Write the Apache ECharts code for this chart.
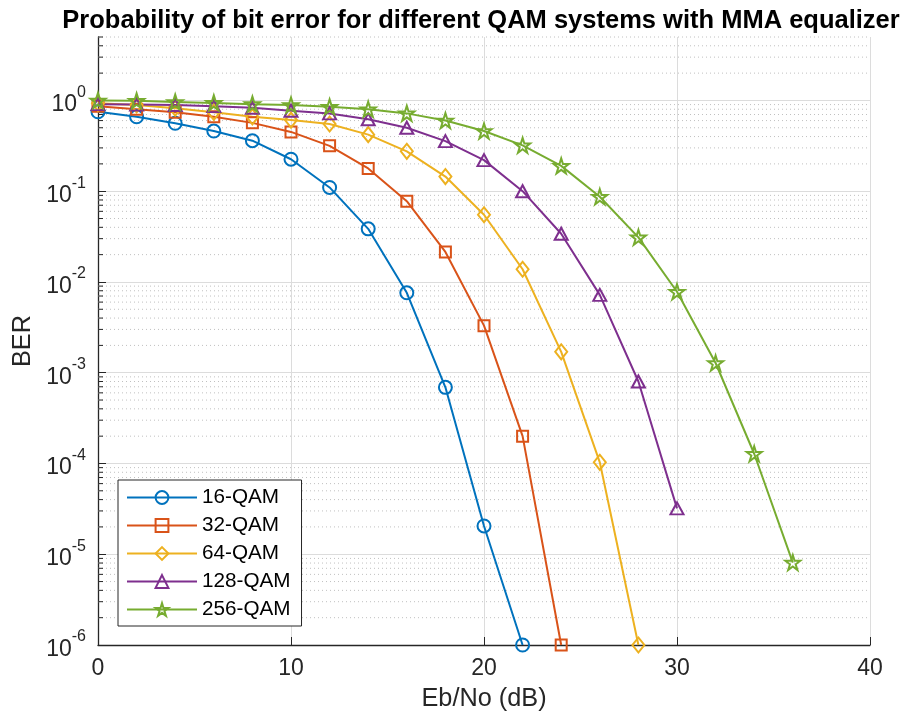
<!DOCTYPE html>
<html>
<head>
<meta charset="utf-8">
<title>BER vs Eb/No</title>
<script src="https://cdn.jsdelivr.net/npm/echarts@6/dist/echarts.min.js"></script>
<style>
  html, body { margin: 0; padding: 0; background: #ffffff; }
  #chart { width: 914px; height: 719px; }
</style>
</head>
<body>
<div id="chart"></div>
<script>
// Eb/No sample points (dB)
const ebno = [0, 2, 4, 6, 8, 10, 12, 14, 16, 18, 20, 22, 24, 26, 28, 30, 32, 34, 36];

// Bit error rate per modulation order
const ber16 = [0.75, 0.66, 0.56, 0.46, 0.36, 0.225, 0.11, 0.0385, 0.0076, 6.9e-4, 2.05e-5, 1e-6];
const ber32 = [0.865, 0.80, 0.74, 0.66, 0.566, 0.45, 0.316, 0.178, 0.0776, 0.0214, 3.3e-3, 2.0e-4, 1e-6];
const ber64 = [0.93, 0.89, 0.82, 0.74, 0.66, 0.607, 0.55, 0.42, 0.275, 0.145, 0.055, 0.0138, 1.7e-3, 1.03e-4, 1e-6];
const ber128 = [0.91, 0.90, 0.89, 0.865, 0.83, 0.77, 0.72, 0.62, 0.50, 0.356, 0.22, 0.10, 0.034, 0.0072, 8.0e-4, 3.2e-5];
const ber256 = [1.0, 0.99, 0.96, 0.94, 0.91, 0.89, 0.85, 0.80, 0.72, 0.60, 0.46, 0.32, 0.19, 0.087, 0.031, 0.0078, 1.28e-3, 1.28e-4, 8.1e-6];

const seriesNames = ['16-QAM', '32-QAM', '64-QAM', '128-QAM', '256-QAM'];
const seriesValues = [ber16, ber32, ber64, ber128, ber256];
const seriesColors = ['#0072BD', '#D95319', '#EDB120', '#7E2F8E', '#77AC30'];

// Axis ranges
const xMin = 0, xMax = 40, xStep = 10;
const yMin = 1e-6, yMax = 5;

const FONT = '"Liberation Sans", Arial, Helvetica, sans-serif';
const AXIS_COLOR = '#262626';

const starPath = 'path://M50 0 L61.2 34.5 L97.6 34.5 L68.2 55.9 L79.4 90.5 L50 69.1 L20.6 90.5 L31.8 55.9 L2.4 34.5 L38.8 34.5 Z';
const markerShapes = ['circle', 'rect', 'diamond', 'triangle', starPath];
const markerSizes = [13, 11, [12, 15], [13, 12], 15];

// Minor decade subdivisions (2..9 x 10^k) for the dotted grid
const minorValues = [];
for (let k = -6; k <= 0; k++) {
  for (let m = 2; m <= 9; m++) {
    const v = m * Math.pow(10, k);
    if (v <= yMax * 1.0000001) minorValues.push(v);
  }
}

const lineSeries = seriesNames.map((name, i) => ({
  name: name,
  type: 'line',
  data: seriesValues[i].map((v, j) => [ebno[j], v]),
  symbol: markerShapes[i],
  symbolSize: markerSizes[i],
  showAllSymbol: true,
  color: seriesColors[i],
  lineStyle: { color: seriesColors[i], width: 2 },
  itemStyle: { color: 'rgba(255,255,255,0)', borderColor: seriesColors[i], borderWidth: 2 },
  emphasis: { disabled: true },
  z: 3
}));

const minorGrid = {
  type: 'custom',
  silent: true,
  z: 1,
  data: minorValues.map(v => [xMin, v]),
  renderItem: function (params, api) {
    const v = api.value(1);
    const a = api.coord([xMin, v]);
    const b = api.coord([xMax, v]);
    return {
      type: 'group',
      children: [
        { type: 'line', shape: { x1: a[0], y1: a[1], x2: b[0], y2: b[1] },
          style: { stroke: '#c0c0c0', lineWidth: 1, lineDash: [1, 3] } },
        { type: 'line', shape: { x1: a[0], y1: a[1], x2: a[0] + 5, y2: a[1] },
          style: { stroke: AXIS_COLOR, lineWidth: 1 } }
      ]
    };
  }
};

const chart = echarts.init(document.getElementById('chart'), null, { renderer: 'canvas' });
chart.setOption({
  animation: false,
  backgroundColor: '#ffffff',
  title: {
    text: 'Probability of bit error for different QAM systems with MMA equalizer',
    left: 476,
    textAlign: 'center',
    top: 3,
    textStyle: { fontFamily: FONT, fontSize: 25.5, fontWeight: 'bold', color: '#000000' }
  },
  grid: { left: 98, right: 44, top: 37, bottom: 74, containLabel: false },
  legend: {
    orient: 'vertical',
    left: 118,
    top: 480,
    padding: [7, 11, 6, 8],
    itemGap: 7,
    itemWidth: 70,
    itemHeight: 16,
    backgroundColor: '#ffffff',
    borderColor: AXIS_COLOR,
    borderWidth: 1,
    borderRadius: 0,
    textStyle: { fontFamily: FONT, fontSize: 20.7, color: '#000000', lineHeight: 21 },
    data: seriesNames
  },
  xAxis: {
    type: 'value',
    min: xMin,
    max: xMax,
    interval: xStep,
    name: 'Eb/No (dB)',
    nameLocation: 'middle',
    nameGap: 42,
    nameTextStyle: { fontFamily: FONT, fontSize: 25.3, color: AXIS_COLOR },
    axisLine: { show: true, onZero: false, lineStyle: { color: AXIS_COLOR, width: 1.3 } },
    axisTick: { show: true, inside: true, length: 8, lineStyle: { color: AXIS_COLOR, width: 1 } },
    axisLabel: { fontFamily: FONT, fontSize: 23, color: AXIS_COLOR, margin: 12 },
    splitLine: { show: true, lineStyle: { color: '#dcdcdc', width: 1 } }
  },
  yAxis: {
    type: 'log',
    logBase: 10,
    min: yMin,
    max: yMax,
    splitNumber: 7,
    name: 'BER',
    nameLocation: 'middle',
    nameGap: 55,
    nameTextStyle: { fontFamily: FONT, fontSize: 25.3, color: AXIS_COLOR },
    axisLine: { show: true, onZero: false, lineStyle: { color: AXIS_COLOR, width: 1.3 } },
    axisTick: { show: true, inside: true, length: 8, lineStyle: { color: AXIS_COLOR, width: 1 } },
    axisLabel: {
      showMaxLabel: false,
      margin: 12,
      formatter: function (value) {
        const e = Math.log10(value);
        const r = Math.round(e);
        if (Math.abs(e - r) > 1e-6) return '';
        return '{b|10}{s|' + r + '}';
      },
      rich: {
        b: { fontFamily: FONT, fontSize: 23, color: AXIS_COLOR, lineHeight: 32, verticalAlign: 'bottom' },
        s: { fontFamily: FONT, fontSize: 16, color: AXIS_COLOR, lineHeight: 16, verticalAlign: 'top' }
      }
    },
    splitLine: { show: true, showMaxLine: false, lineStyle: { color: '#dcdcdc', width: 1 } }
  },
  series: [minorGrid].concat(lineSeries)
});
</script>
</body>
</html>
